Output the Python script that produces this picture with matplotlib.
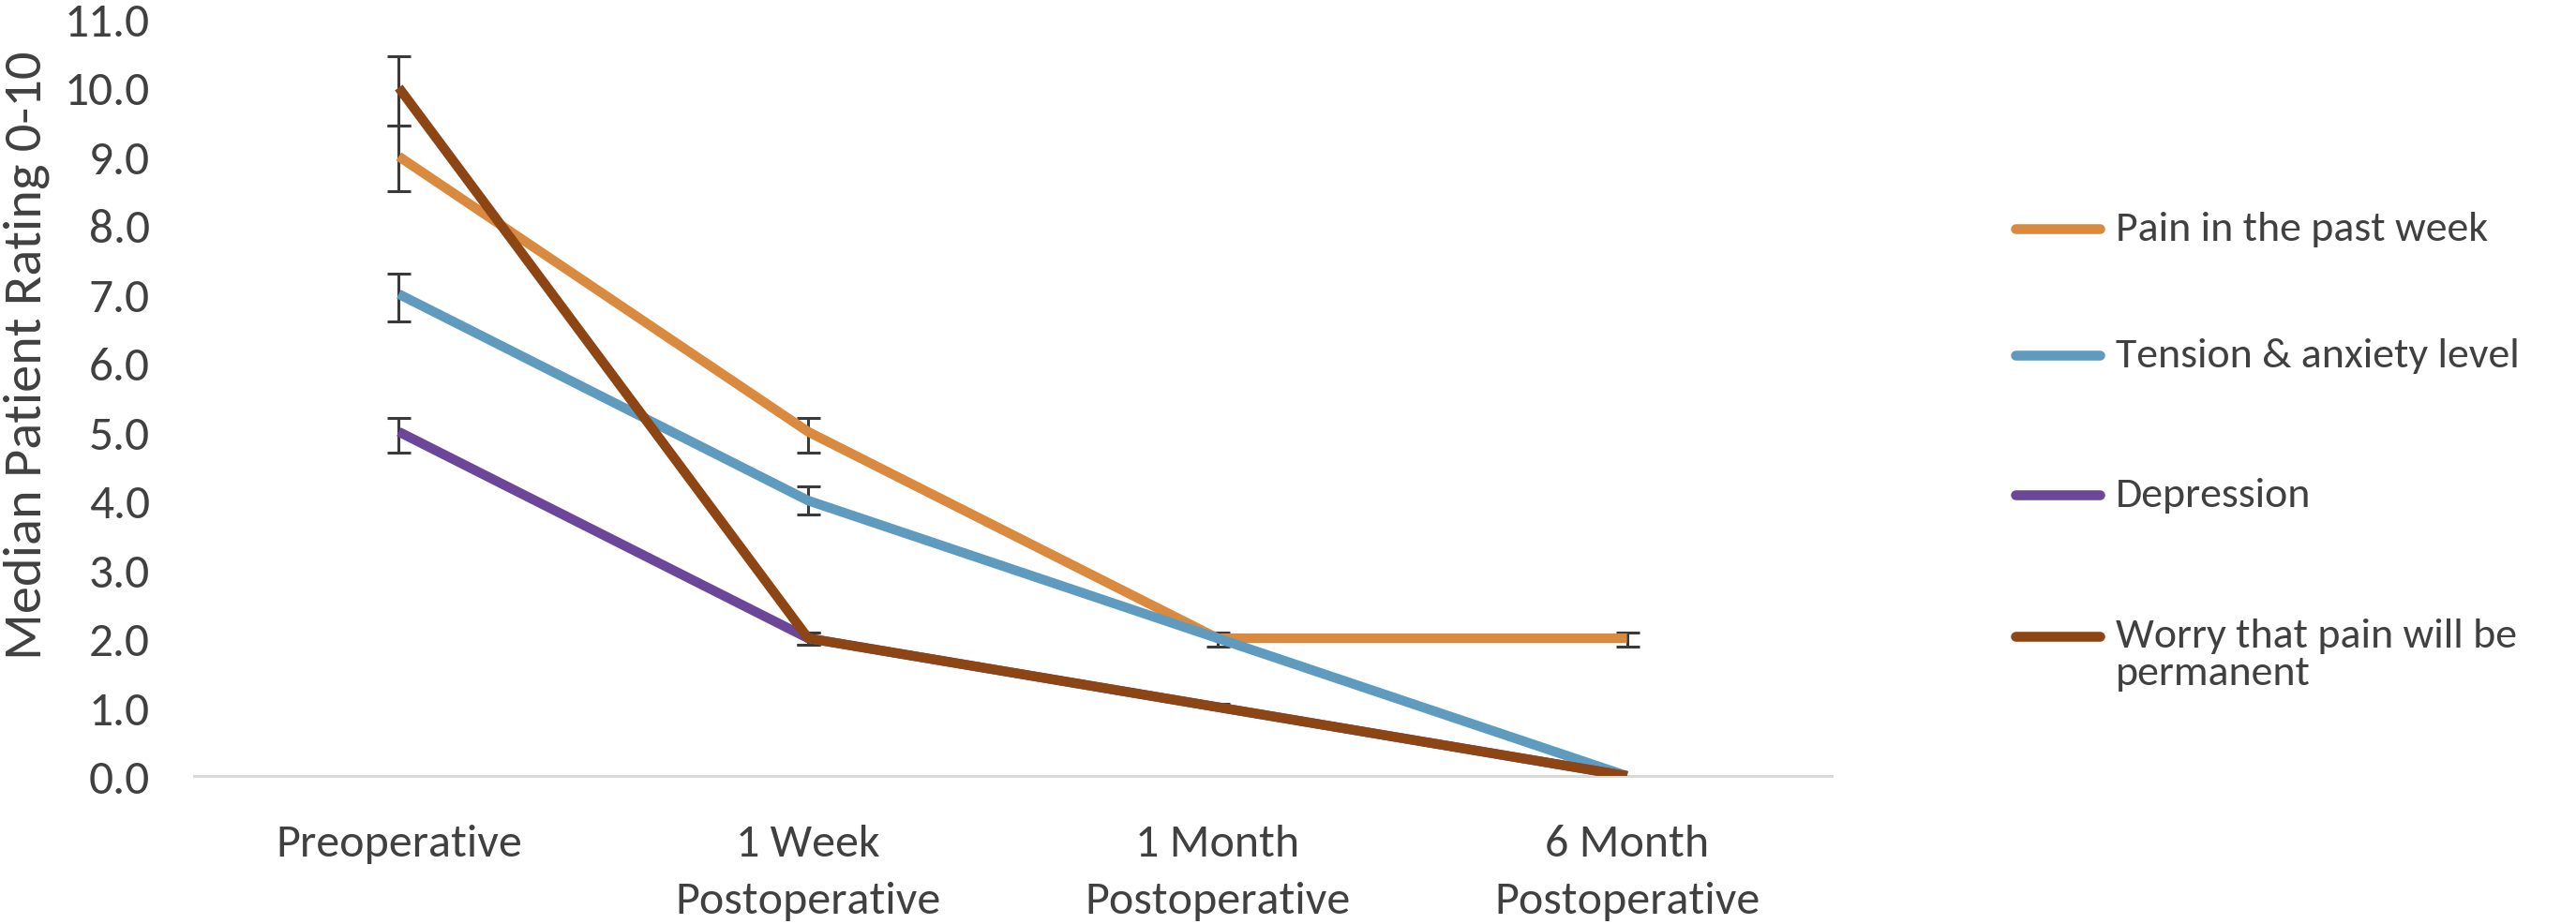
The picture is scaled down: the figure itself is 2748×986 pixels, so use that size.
import matplotlib
matplotlib.use("Agg")
import matplotlib.pyplot as plt
import numpy as np
from matplotlib.lines import Line2D

# ---- data ----
categories = ["Preoperative", "1 Week\nPostoperative", "1 Month\nPostoperative", "6 Month\nPostoperative"]
series_names = ["Pain in the past week", "Tension & anxiety level", "Depression",
                "Worry that pain will be\npermanent"]
pain = [9.0, 5.0, 2.0, 2.0]
tension = [7.0, 4.0, 2.0, 0.0]
depression = [5.0, 2.0, 1.0, 0.0]
worry = [10.0, 2.0, 1.0, 0.0]
# error bar extents (lower, upper)
pain_err_lo = [0.50, 0.30, 0.12, 0.12]
pain_err_hi = [0.45, 0.20, 0.08, 0.08]
tension_err_lo = [0.40, 0.20, 0.0, 0.0]
tension_err_hi = [0.30, 0.20, 0.0, 0.0]
depression_err_lo = [0.30, 0.10, 0.0, 0.0]
depression_err_hi = [0.20, 0.08, 0.0, 0.0]
worry_err_lo = [0.55, 0.10, 0.0, 0.0]
worry_err_hi = [0.45, 0.08, 0.05, 0.0]
y_ticks = [0, 1, 2, 3, 4, 5, 6, 7, 8, 9, 10, 11]

colors = ["#DA8A3E", "#5F9BBF", "#6B4699", "#8E4514"]
text_color = "#404040"
FONT = ["Carlito", "DejaVu Sans"]

fig = plt.figure(figsize=(27.48, 9.87), dpi=100)
ax = fig.add_axes([207/2748, 1 - 829/987, (1954 - 207)/2748, (829 - 21)/987])

x = np.arange(len(categories))
all_vals = [pain, tension, depression, worry]
all_lo = [pain_err_lo, tension_err_lo, depression_err_lo, worry_err_lo]
all_hi = [pain_err_hi, tension_err_hi, depression_err_hi, worry_err_hi]

for vals, lo, hi in zip(all_vals, all_lo, all_hi):
    v = np.array(vals); lo = np.array(lo); hi = np.array(hi)
    m = (lo + hi) > 0
    ax.errorbar(x[m], v[m], yerr=[lo[m], hi[m]], fmt="none", ecolor="#3A3A3A",
                elinewidth=2.2, capsize=9, capthick=2.2, zorder=2)

for i, (vals, c) in enumerate(zip(all_vals, colors)):
    ax.plot(x, vals, color=c, lw=7.4, solid_capstyle="butt", zorder=3 + i)

ax.set_xlim(-0.5, len(categories) - 0.5)
ax.set_ylim(0, 11)
ax.set_yticks(y_ticks)
ax.set_yticklabels([f"{t:.1f}" for t in y_ticks])
ax.set_xticks(x)
ax.set_xticklabels(categories, linespacing=1.55)
for s in ["top", "right", "left"]:
    ax.spines[s].set_visible(False)
ax.spines["bottom"].set_color("#D9D9D9")
ax.spines["bottom"].set_linewidth(2.2)
ax.tick_params(axis="y", length=0, pad=34, labelsize=37, labelcolor=text_color)
ax.tick_params(axis="x", length=0, pad=37, labelsize=36, labelcolor=text_color)
for lab in ax.get_yticklabels() + ax.get_xticklabels():
    lab.set_family(FONT)

ax.set_ylabel("Median Patient Rating 0-10", fontsize=42, color=text_color, family=FONT)
ax.yaxis.set_label_coords((53 - 207) / 1747, (829 - 379) / 808)

# ---- legend (manual placement to mirror the reference) ----
W, H = 2748, 987
legend_y = [245, 380, 529, 680]
for name, c, yy in zip(series_names, colors, legend_y):
    fy = 1 - yy / H
    fig.add_artist(Line2D([2150 / W, 2240 / W], [fy, fy], color=c, lw=7.6,
                          solid_capstyle="round", transform=fig.transFigure))
    if "\n" in name:
        fig.text(2257 / W, 1 - (yy - 20) / H, name, va="top", ha="left", fontsize=33,
                 color=text_color, family=FONT, linespacing=1.05)
    else:
        fig.text(2257 / W, fy, name, va="center", ha="left", fontsize=33,
                 color=text_color, family=FONT)

fig.savefig("out.png", dpi=100, facecolor="white")
